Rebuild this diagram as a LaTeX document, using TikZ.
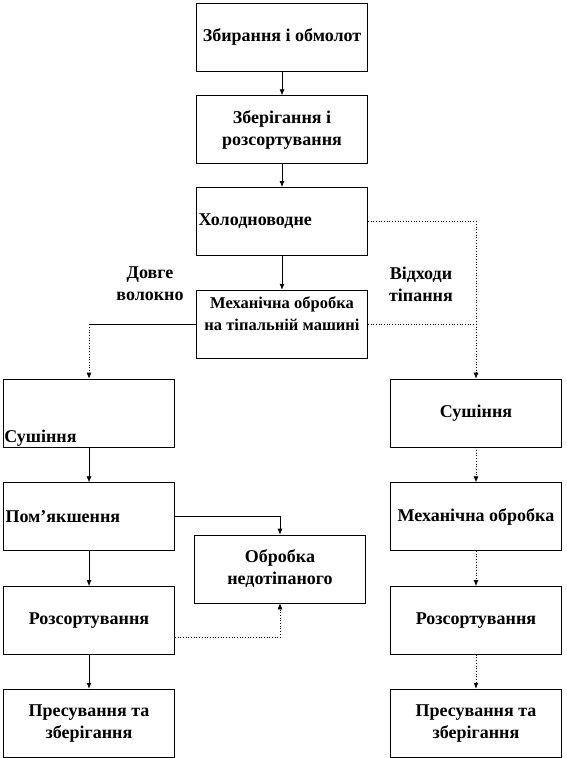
\documentclass[tikz,border=0pt]{standalone}
\usepackage{fontspec}
\setmainfont{Liberation Serif}
\usetikzlibrary{positioning, arrows.meta}

\begin{document}
\begin{tikzpicture}[x=1pt, y=-1pt,
  font=\fontsize{18}{22}\selectfont\bfseries,
  box/.style={draw, line width=0.7pt, minimum width=171pt, minimum height=68pt,
              align=center, inner sep=2pt},
  lbox/.style={box, text width=167pt, align=left},
  arr/.style={-{Latex[length=6pt, width=5pt]}, line width=0.7pt},
  darr/.style={arr, dotted},
  note/.style={align=center}]
  \useasboundingbox (0,0) rectangle (566,758);
  % main column
  \node[box] (zb) at (282,37) {Збирання і обмолот};
  \node[box, below=24pt of zb] (zr) {Зберігання і\\розсортування};
  \node[lbox, below=23pt of zr] (hv) {Холодноводне};
  \node[box, below=34pt of hv, font=\fontsize{16.5}{22}\selectfont\bfseries] (mt)
    {Механічна обробка\\на тіпальній машині\\ \mbox{}};
  \node[note] (dv) at (150,284) {Довге\\волокно};
  \node[note] (vt) at (421,284) {Відходи\\тіпання};
  % left column
  \node[box, label={[anchor=south west, inner sep=1pt]south west:Сушіння}] (ls) at (89,413) {};
  \node[lbox, below=35pt of ls] (lp) {Пом’якшення};
  \node[box, below=35pt of lp] (lr) {Розсортування};
  \node[box, below=34pt of lr] (lz) {Пресування та\\зберігання};
  \node[box] (on) at (280,569) {Обробка\\недотіпаного};
  % right column
  \node[box] (rs) at (476,413) {Сушіння};
  \node[box, below=35pt of rs] (rm) {Механічна обробка};
  \node[box, below=35pt of rm] (rr) {Розсортування};
  \node[box, below=34pt of rr] (rz) {Пресування та\\зберігання};
  % connectors
  \draw[arr] (zb) -- (zr); \draw[arr] (zr) -- (hv); \draw[arr] (hv) -- (mt);
  \draw[darr] (hv.east) -| (rs.north);
  \draw[dotted, line width=0.7pt] (mt.east) -- (mt.east -| rs.north);
  \coordinate (kl) at (mt.west -| ls.north);
  \draw[line width=0.7pt] (mt.west) -- (kl);
  \draw[darr] (kl) -- (ls.north);
  \draw[arr] (ls) -- (lp); \draw[arr] (lp) -- (lr); \draw[arr] (lr) -- (lz);
  \draw[arr] (lp.east) -| (on.north);
  \draw[darr] ([yshift=-17pt]lr.east) -| (on.south);
  \draw[darr] (rs) -- (rm); \draw[darr] (rm) -- (rr); \draw[darr] (rr) -- (rz);
\end{tikzpicture}
\end{document}
